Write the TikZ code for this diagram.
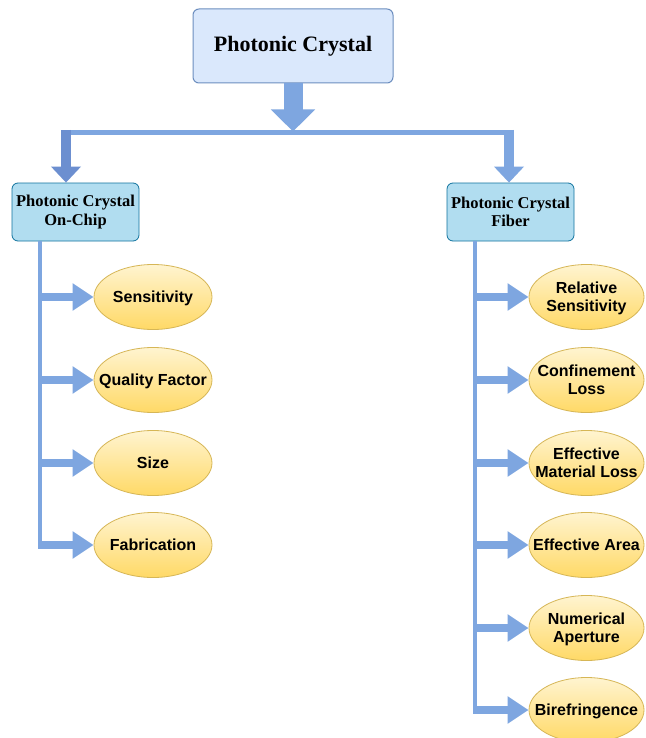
\documentclass[tikz,border=0pt]{standalone}
\usepackage{fontspec}
\setmainfont{Liberation Serif}
\setsansfont{Liberation Sans}
\usetikzlibrary{arrows.meta,shapes.geometric,calc}
\definecolor{conn}{HTML}{7EA6E0}
\definecolor{connd}{HTML}{6C8FD0}
\definecolor{topfill}{HTML}{DAE8FC}
\definecolor{topdraw}{HTML}{6C8EBF}
\definecolor{subfill}{HTML}{B1DDF0}
\definecolor{subdraw}{HTML}{10739E}
\definecolor{elltop}{HTML}{FFF4D0}
\definecolor{ellbot}{HTML}{FFD966}
\definecolor{elldraw}{HTML}{D6B656}
\newcommand\leaftext[1]{\makebox[0pt]{\raisebox{-2pt}[\height][\depth]{\begin{tabular}{@{}c@{}}#1\end{tabular}}}}
\tikzset{
  topbox/.style={draw=topdraw, fill=topfill, line width=1pt, rounded corners=6pt,
    minimum width=200pt, minimum height=74pt, inner sep=0pt,
    font=\fontsize{22}{25}\selectfont\bfseries},
  subbox/.style={draw=subdraw, fill=subfill, line width=0.8pt, rounded corners=6pt,
    minimum width=127pt, minimum height=58pt, inner sep=0pt, align=center,
    font=\fontsize{16.5}{18.5}\selectfont\bfseries},
  leaf/.style={ellipse, draw=elldraw, line width=0.8pt, top color=elltop, bottom color=ellbot,
    minimum width=118pt, minimum height=65pt, inner sep=0pt,
    font=\sffamily\fontsize{16}{18.5}\selectfont\bfseries},
  rleaf/.style={leaf, minimum width=115pt},
  trunk/.style={draw=conn, line width=4pt},
  branch/.style={draw=conn, line width=8pt, -{Triangle[length=21pt,width=26pt]}},
  drop/.style={line width=10pt, -{Triangle[length=16pt,width=29pt]}},
  bigdrop/.style={draw=conn, line width=19pt, -{Triangle[length=22pt,width=43pt]}}
}
\begin{document}
\begin{tikzpicture}[x=1pt,y=-1pt]
\clip (0,0) rectangle (645,738);
\useasboundingbox (0,0) rectangle (645,738);
\fill[white] (0,0) rectangle (645,738);

\node[topbox] (T) at (293,46) {Photonic Crystal};
\node[subbox] (L) at (75.5,212) {Photonic Crystal\\On-Chip};
\node[subbox] (R) at (510.5,212) {Photonic Crystal\\Fiber};

% left leaves
\node[leaf] (l1) at (153,297) {\leaftext{Sensitivity}};
\node[leaf] (l2) at (153,380) {\leaftext{Quality Factor}};
\node[leaf] (l3) at (153,463) {\leaftext{Size}};
\node[leaf] (l4) at (153,545) {\leaftext{Fabrication}};

% right leaves
\node[rleaf] (r1) at (586.5,297) {\leaftext{Relative\\Sensitivity}};
\node[rleaf] (r2) at (586.5,380) {\leaftext{Confinement\\Loss}};
\node[rleaf] (r3) at (586.5,463) {\leaftext{Effective\\Material Loss}};
\node[rleaf] (r4) at (586.5,545) {\leaftext{Effective Area}};
\node[rleaf] (r5) at (586.5,628) {\leaftext{Numerical\\Aperture}};
\node[rleaf] (r6) at (586.5,710) {\leaftext{Birefringence}};

% top connectors
\coordinate (jl) at (66,132.5);
\coordinate (jr) at (509,132.5);
\coordinate (jt) at (293,132.5);
\draw[draw=conn, line width=5pt] ($(jl)+(-5,0)$) -- ($(jr)+(5,0)$);
\draw[bigdrop] (T.south) -- ($(jt)+(0,-1)$);
\draw[drop, draw=connd] ($(jl)+(0,-2.5)$) -- (jl |- L.north);
\draw[drop, draw=conn] ($(jr)+(0,-2.5)$) -- (jr |- R.north);

% trunks
\coordinate (lt) at (40,0);
\coordinate (rt) at (475,0);
\draw[trunk] (lt |- L.south) -- ($(lt |- l4)+(0,2)$);
\draw[trunk] (rt |- R.south) -- ($(rt |- r6)+(0,2)$);

% branches
\foreach \n in {l1,l2,l3,l4}{
  \draw[branch] ($(lt |- \n)+(-2,0)$) -- (\n.west);
}
\foreach \n in {r1,r2,r3,r4,r5,r6}{
  \draw[branch] ($(rt |- \n)+(-2,0)$) -- (\n.west);
}
\end{tikzpicture}
\end{document}
